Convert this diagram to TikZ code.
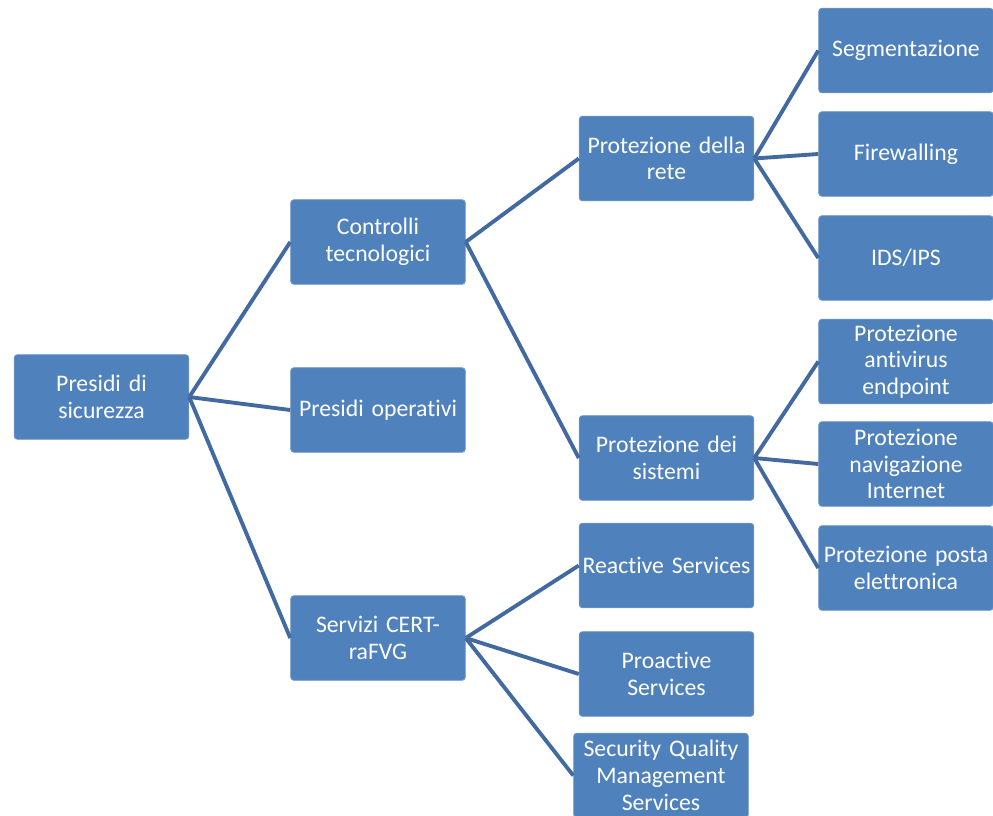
\documentclass[tikz,border=0pt]{standalone}
\usepackage{fontspec}
\setmainfont{Carlito}[Ligatures=NoCommon, WordSpace=0.75]
\definecolor{boxblue}{RGB}{79,129,189}
\definecolor{boxedge}{RGB}{110,150,200}
\definecolor{linkblue}{RGB}{66,106,160}
\tikzset{
	box/.style={rectangle, rounded corners=2.5pt, fill=boxblue, draw=boxedge, line width=0.6pt, text=white,
		minimum width=131pt, minimum height=63.5pt, text width=129pt, align=center, inner sep=0pt,
		font=\fontsize{17.8}{20}\selectfont},
	link/.style={draw=linkblue, line width=2.9pt}
}

\begin{document}
\begin{tikzpicture}[x=0.75pt,y=0.75pt,yscale=-1,xscale=1]
	\clip (0,0) rectangle (993,815); %diagram area of 993 x 815

	% Text Node
	\node [box] (presidi) at (101.5,397) {Presidi di\\sicurezza};
	% Text Node
	\node [box] (controlli) at (378,242) {Controlli\\tecnologici};
	% Text Node
	\node [box] (operativi) at (378,410) {Presidi operativi};
	% Text Node
	\node [box] (cert) at (378,638) {Servizi CERT-\\raFVG};
	% Text Node
	\node [box] (rete) at (666.5,158.5) {Protezione della\\rete};
	% Text Node
	\node [box] (sistemi) at (666.5,458) {Protezione dei\\sistemi};
	% Text Node
	\node [box] (reactive) at (666.5,565.5) {Reactive Services};
	% Text Node
	\node [box] (proactive) at (666.5,674) {Proactive\\Services};
	% Text Node
	\node [box] (sqm) at (661,775.5) {Security Quality\\Management\\Services};
	% Text Node
	\node [box] (segm) at (906,50.5) {Segmentazione};
	% Text Node
	\node [box] (firew) at (906,154) {Firewalling};
	% Text Node
	\node [box] (ids) at (906,258) {IDS/IPS};
	% Text Node
	\node [box] (antiv) at (906,361.5) {Protezione\\antivirus\\endpoint};
	% Text Node
	\node [box] (navig) at (906,464) {Protezione\\navigazione\\Internet};
	% Text Node
	\node [box] (posta) at (906,568) {Protezione posta\\elettronica};

	% Connection
	\draw [link] (presidi.east) -- (controlli.west);
	\draw [link] (presidi.east) -- (operativi.west);
	\draw [link] (presidi.east) -- (cert.west);
	% Connection
	\draw [link] (controlli.east) -- (rete.west);
	\draw [link] (controlli.east) -- (sistemi.west);
	% Connection
	\draw [link] (rete.east) -- (segm.west);
	\draw [link] (rete.east) -- (firew.west);
	\draw [link] (rete.east) -- (ids.west);
	% Connection
	\draw [link] (sistemi.east) -- (antiv.west);
	\draw [link] (sistemi.east) -- (navig.west);
	\draw [link] (sistemi.east) -- (posta.west);
	% Connection
	\draw [link] (cert.east) -- (reactive.west);
	\draw [link] (cert.east) -- (proactive.west);
	\draw [link] (cert.east) -- (sqm.west);

	\end{tikzpicture}
\end{document}
